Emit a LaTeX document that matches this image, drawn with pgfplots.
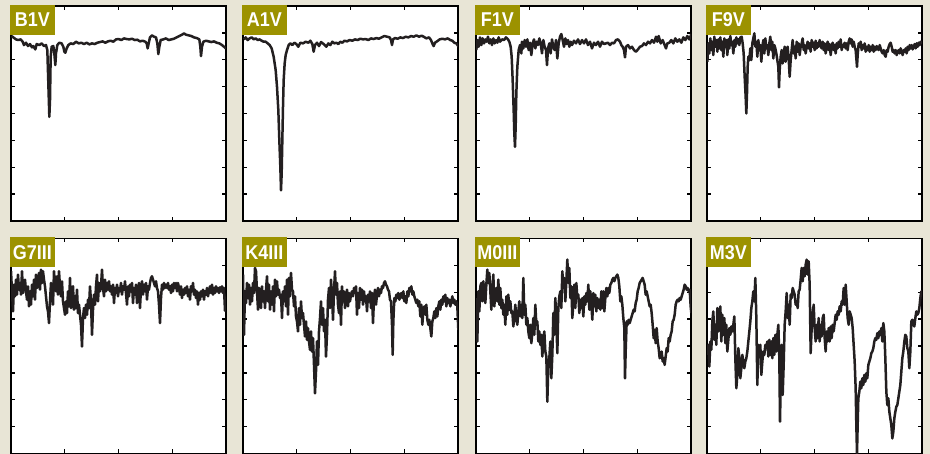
\documentclass[border=0pt]{standalone}
\usepackage{fontspec}
\usepackage{pgfplots}
\pgfplotsset{compat=1.18}
\newfontfamily\labfont{Liberation Sans}[FakeStretch=0.9]
\definecolor{bgbeige}{HTML}{E8E5D6}
\definecolor{olivebox}{HTML}{9C9200}
\definecolor{ink}{HTML}{231F20}

% values in its own units: x to the right, flux downwards (y dir=reverse)
\pgfplotsset{
  spec/.style={
    width=215pt, height=215pt, scale only axis,
    y dir=reverse,
    xticklabel=\empty, yticklabel=\empty,
    tick align=inside, tick pos=both,
    major tick length=4pt,
    major tick style={line width=1.4pt, black},
    axis line style={line width=1.8pt, black},
    axis background/.style={fill=white},
  },
  specline/.style={ink, line width=2.5pt, line join=round, mark=none},
  toprow/.style={spec, ymin=18, ymax=662, ytick={98.5,179,259.5,340,420.5,501,581.5}},
  botrow/.style={spec, ymin=42, ymax=685, ytick={122.4,202.8,283.1,363.5,443.9,524.3,604.6}},
  colA/.style={xmin=33, xmax=678, xtick={194.25,355.5,516.75}},
  colB/.style={xmin=38, xmax=683, xtick={199.25,360.5,521.75}},
  colC/.style={xmin=32, xmax=677, xtick={193.25,354.5,515.75}},
  colD/.style={xmin=22, xmax=667, xtick={183.25,344.5,505.75}},
}
\tikzset{lab/.style={fill=olivebox, text=white, inner sep=0pt, minimum width=45.5pt,
  minimum height=30pt, anchor=north west, xshift=-1.5pt, yshift=1.5pt,
  font=\labfont\bfseries\fontsize{20}{20}\selectfont}}

\begin{document}
\begin{tikzpicture}
\useasboundingbox (0,0) rectangle (930pt,454pt);
\fill[bgbeige] (0,0) rectangle (930pt,454pt);

% ---------- B1V
\begin{axis}[toprow, colA, name=p1, at={(11pt,233pt)}, anchor=south west]
\addplot[specline] coordinates {
(35,108) (40,112) (48,118) (55,120) (62,118) (68,125) (72,135) (78,128) (84,138) (90,132)
(96,142) (100,138) (106,148) (110,132) (118,135) (125,130) (132,138) (138,135) (142,150) (145,250)
(148,350) (150,300) (152,170) (155,140) (160,138) (163,160) (166,195) (168,160) (172,135) (178,128)
(185,130) (190,140) (193,155) (196,158) (200,145) (205,135) (212,130) (220,132) (228,125) (236,130)
(244,128) (252,132) (260,128) (268,133) (276,130) (284,132) (292,128) (300,126) (308,124) (316,128)
(324,124) (332,122) (340,125) (348,118) (356,117) (364,120) (372,115) (380,117) (388,118) (396,116)
(404,120) (412,119) (420,124) (428,122) (436,125) (440,130) (443,145) (446,130) (450,112) (456,106)
(462,110) (468,112) (472,130) (475,162) (478,140) (482,120) (490,118) (498,115) (506,120) (514,118)
(522,116) (530,112) (538,108) (546,104) (552,100) (558,104) (566,106) (574,108) (582,112) (590,114)
(598,118) (601,140) (603,168) (606,140) (610,125) (618,122) (626,124) (634,126) (642,124) (650,128)
(658,130) (666,135) (672,140) (678,146)
};
\end{axis}
\node[lab] at (p1.north west) {B1V};

% ---------- A1V
\begin{axis}[toprow, colB, name=p2, at={(243pt,233pt)}, anchor=south west]
\addplot[specline] coordinates {
(40,118) (46,112) (52,120) (58,115) (64,112) (70,118) (76,115) (82,120) (88,118) (94,122)
(100,125) (106,125) (112,130) (118,135) (124,145) (130,170) (136,210) (140,260) (144,330) (147,420)
(150,500) (152,570) (154,520) (156,420) (158,320) (160,240) (163,190) (166,165) (170,150) (175,135)
(180,130) (186,135) (192,128) (198,132) (204,140) (210,128) (218,130) (226,125) (234,128) (240,122)
(246,132) (250,155) (254,135) (260,128) (266,138) (272,126) (280,132) (288,140) (294,130) (300,135)
(306,125) (312,130) (318,128) (324,132) (330,125) (336,128) (342,122) (350,124) (358,120) (366,122)
(374,118) (382,120) (390,116) (398,118) (406,117) (414,120) (422,115) (430,117) (438,114) (446,116)
(454,112) (462,108) (470,110) (478,112) (482,120) (485,135) (488,118) (494,114) (502,116) (510,112)
(518,114) (526,110) (534,112) (542,108) (550,110) (558,106) (566,110) (574,107) (580,110) (588,115)
(596,112) (602,120) (606,130) (610,138) (614,128) (620,124) (628,118) (636,116) (644,118) (652,115)
(660,120) (666,122) (672,128) (678,130) (685,140)
};
\end{axis}
\node[lab] at (p2.north west) {A1V};

% ---------- F1V
\begin{axis}[toprow, colC, name=p3, at={(476pt,233pt)}, anchor=south west]
\addplot[specline] coordinates {
(33,150) (36,120) (40,140) (44,112) (48,135) (52,115) (56,130) (60,118) (64,125) (68,110)
(72,130) (76,118) (80,135) (84,115) (88,130) (92,120) (96,128) (100,112) (104,125) (110,118)
(116,120) (122,112) (128,118) (132,125) (136,140) (139,170) (142,240) (145,330) (147,400) (149,440)
(151,380) (153,280) (156,200) (160,150) (164,135) (168,160) (170,125) (174,145) (178,120) (182,140)
(186,118) (190,150) (194,128) (198,165) (202,130) (206,118) (210,145) (214,125) (218,135) (222,115)
(226,130) (230,160) (234,120) (238,140) (242,150) (245,195) (248,145) (252,130) (256,160) (260,118)
(264,140) (268,150) (272,120) (276,175) (280,130) (284,110) (288,102) (292,120) (296,140) (300,115)
(304,132) (308,120) (312,140) (316,125) (320,135) (326,122) (332,130) (338,118) (344,132) (350,120)
(356,130) (362,118) (368,135) (374,125) (380,145) (386,128) (392,135) (398,125) (404,140) (410,125)
(416,132) (422,130) (428,128) (434,135) (440,128) (446,130) (452,120) (458,118) (464,125) (468,135)
(472,140) (476,150) (479,172) (482,140) (488,135) (494,145) (500,140) (506,150) (512,155) (518,148)
(524,140) (530,138) (536,130) (542,135) (548,125) (554,130) (560,120) (566,128) (572,110) (576,125)
(580,108) (586,130) (592,120) (598,135) (602,145) (606,130) (612,128) (618,120) (624,130) (630,115)
(636,125) (642,118) (648,128) (654,112) (660,120) (666,108) (672,118) (678,102)
};
\end{axis}
\node[lab] at (p3.north west) {F1V};

% ---------- F9V
\begin{axis}[toprow, colD, name=p4, at={(707pt,233pt)}, anchor=south west]
\addplot[specline] coordinates {
(23,185) (26,130) (29,160) (32,115) (35,150) (38,125) (41,165) (44,110) (47,140) (50,120)
(53,155) (56,118) (59,145) (62,112) (65,150) (68,125) (71,170) (74,115) (77,140) (80,120)
(83,165) (86,118) (89,145) (92,108) (95,135) (98,125) (101,160) (104,120) (107,140) (110,112)
(113,130) (116,118) (119,135) (122,112) (126,110) (129,130) (132,160) (135,230) (138,290) (140,340)
(142,280) (144,200) (146,170) (149,180) (152,145) (155,180) (158,130) (161,115) (164,100) (167,140)
(170,125) (173,170) (176,120) (179,150) (182,135) (185,185) (188,140) (191,120) (194,160) (197,115)
(200,145) (203,135) (206,165) (209,130) (212,110) (215,150) (218,125) (221,175) (224,135) (227,145)
(230,160) (233,180) (236,200) (238,262) (240,210) (243,170) (246,150) (249,190) (252,160) (255,140)
(258,185) (261,150) (264,140) (267,175) (270,230) (273,180) (276,150) (279,120) (282,160) (285,140)
(288,175) (291,125) (294,155) (297,130) (300,165) (303,140) (306,130) (309,115) (312,150) (315,135)
(318,160) (321,140) (324,125) (327,145) (330,130) (333,155) (336,120) (339,140) (342,128) (345,150)
(348,122) (351,145) (354,130) (357,140) (360,120) (363,135) (366,145) (369,125) (372,150) (375,130)
(378,160) (381,140) (384,125) (387,150) (390,132) (393,165) (396,140) (399,128) (402,150) (405,135)
(408,160) (411,130) (414,145) (417,125) (420,140) (423,118) (426,150) (429,135) (432,140) (435,128)
(438,145) (441,130) (444,150) (447,125) (450,115) (453,130) (456,118) (459,140) (462,125) (465,140)
(468,150) (470,175) (472,200) (474,165) (477,130) (480,140) (483,125) (486,150) (489,135) (492,145)
(495,130) (498,155) (501,140) (504,150) (507,135) (510,155) (513,140) (516,150) (519,135) (522,155)
(525,140) (528,150) (531,138) (534,145) (537,150) (540,135) (543,145) (546,155) (549,160) (552,150)
(555,165) (558,170) (561,150) (564,155) (567,140) (570,132) (573,128) (576,140) (579,155) (582,150)
(585,160) (588,150) (591,165) (594,155) (597,150) (600,160) (603,145) (606,155) (609,165) (612,150)
(615,155) (618,145) (621,160) (624,140) (627,150) (630,135) (633,145) (636,135) (639,148) (642,140)
(645,132) (648,145) (651,130) (654,140) (657,128) (660,135) (663,125) (668,130)
};
\end{axis}
\node[lab] at (p4.north west) {F9V};

% ---------- G7III
\begin{axis}[botrow, colA, name=p5, at={(11pt,0.5pt)}, anchor=south west]
\addplot[specline] coordinates {
(33,140) (36,200) (39,260) (42,180) (45,215) (48,165) (51,210) (54,150) (57,195) (60,175)
(63,210) (66,140) (69,205) (72,185) (75,165) (78,200) (81,225) (84,185) (87,245) (90,200)
(93,240) (96,180) (99,215) (102,165) (105,225) (108,150) (111,190) (114,170) (117,145) (120,195)
(123,135) (126,175) (129,140) (132,165) (135,185) (138,215) (141,245) (144,260) (147,295) (150,230)
(153,175) (156,210) (159,240) (162,140) (165,185) (168,200) (171,155) (174,210) (177,140) (180,185)
(183,215) (186,170) (189,230) (192,250) (195,270) (198,230) (201,265) (204,200) (207,245) (210,160)
(213,250) (216,195) (219,185) (222,255) (225,215) (228,250) (231,195) (234,265) (237,240) (240,270)
(243,300) (246,365) (249,280) (252,250) (255,280) (258,240) (261,270) (264,225) (267,250) (270,185)
(273,230) (276,330) (279,255) (282,210) (285,240) (288,185) (291,150) (294,230) (297,175) (300,200)
(303,185) (306,135) (309,190) (312,215) (315,165) (318,200) (321,175) (324,195) (327,170) (330,200)
(333,185) (336,210) (339,180) (342,235) (345,190) (348,205) (351,180) (354,215) (357,190) (360,200)
(363,175) (366,210) (369,185) (372,195) (375,170) (378,205) (381,240) (384,185) (387,215) (390,180)
(393,200) (396,175) (399,235) (402,190) (405,210) (408,180) (411,235) (414,195) (417,175) (420,250)
(423,190) (426,170) (429,210) (432,180) (435,200) (438,175) (441,225) (444,185) (447,195) (450,175)
(453,160) (456,155) (459,165) (462,175) (465,185) (468,170) (471,190) (474,200) (477,240) (480,295)
(483,220) (486,180) (489,195) (492,175) (495,190) (498,180) (501,190) (504,175) (507,195) (510,185)
(513,205) (516,180) (519,200) (522,175) (525,190) (528,175) (531,200) (534,175) (537,190) (540,210)
(543,185) (546,220) (549,195) (552,210) (555,190) (558,205) (561,185) (564,215) (567,195) (570,225)
(573,185) (576,200) (579,175) (582,210) (585,195) (588,220) (591,200) (594,240) (597,205) (600,225)
(603,200) (606,215) (609,195) (612,225) (615,200) (618,210) (621,190) (624,215) (627,200) (630,185)
(633,205) (636,180) (639,210) (642,190) (645,205) (648,185) (651,200) (654,190) (657,205) (660,188)
(663,200) (666,185) (669,205) (672,190) (675,258) (678,215)
};
\end{axis}
\node[lab] at (p5.north west) {G7III};

% ---------- K4III
\begin{axis}[botrow, colB, name=p6, at={(243pt,0.5pt)}, anchor=south west]
\addplot[specline] coordinates {
(38,150) (41,330) (44,200) (47,235) (50,175) (53,220) (56,180) (59,240) (62,190) (65,230)
(68,175) (71,205) (74,130) (77,140) (80,200) (83,255) (86,190) (89,210) (92,250) (95,185)
(98,230) (101,200) (104,250) (107,195) (110,155) (113,230) (116,180) (119,255) (122,200) (125,240)
(128,185) (131,260) (134,165) (137,215) (140,170) (143,210) (146,195) (149,220) (152,210) (155,280)
(158,200) (161,230) (164,185) (167,245) (170,165) (173,270) (176,160) (179,215) (182,145) (185,195)
(188,200) (191,245) (194,215) (197,275) (200,290) (203,320) (206,250) (209,300) (212,230) (215,280)
(218,265) (221,300) (224,335) (227,290) (230,345) (233,310) (236,350) (239,375) (242,320) (245,380)
(248,340) (251,420) (254,505) (257,440) (260,350) (263,420) (266,320) (269,280) (272,230) (275,300)
(278,250) (281,320) (284,285) (287,395) (290,330) (293,225) (296,190) (299,250) (302,165) (305,215)
(308,285) (311,200) (314,140) (317,210) (320,175) (323,240) (326,265) (329,200) (332,300) (335,185)
(338,230) (341,200) (344,250) (347,225) (350,195) (353,245) (356,205) (359,230) (362,210) (365,200)
(368,215) (371,190) (374,205) (377,185) (380,270) (383,205) (386,250) (389,190) (392,225) (395,195)
(398,240) (401,200) (404,230) (407,215) (410,260) (413,210) (416,230) (419,200) (422,250) (425,205)
(428,295) (431,220) (434,195) (437,240) (440,210) (443,190) (446,215) (449,195) (452,205) (455,185)
(458,190) (461,175) (464,170) (467,180) (470,185) (473,195) (476,200) (479,225) (482,230) (485,300)
(487,390) (489,290) (492,220) (495,230) (498,210) (501,220) (504,205) (507,225) (510,215) (513,205)
(516,220) (519,200) (522,230) (525,215) (528,235) (531,200) (534,215) (537,190) (540,200) (543,185)
(546,210) (549,200) (552,215) (555,225) (558,235) (561,225) (564,245) (567,230) (570,275) (573,240)
(576,300) (579,255) (582,245) (585,270) (588,240) (591,285) (594,300) (597,285) (600,310) (603,335)
(606,290) (609,280) (612,260) (615,280) (618,250) (621,275) (624,245) (627,230) (630,255) (633,225)
(636,240) (639,215) (642,230) (645,210) (648,245) (651,220) (654,235) (657,225) (660,245) (663,230)
(666,215) (669,235) (672,225) (675,240) (678,230) (681,245) (684,315)
};
\end{axis}
\node[lab] at (p6.north west) {K4III};

% ---------- M0III
\begin{axis}[botrow, colC, name=p7, at={(476pt,0.5pt)}, anchor=south west]
\addplot[specline] coordinates {
(33,220) (36,350) (39,200) (42,260) (45,185) (48,175) (51,230) (54,170) (57,210) (60,235)
(63,180) (66,135) (69,175) (72,145) (75,200) (78,255) (81,195) (84,150) (87,245) (90,200)
(93,190) (96,230) (99,165) (102,240) (105,190) (108,250) (111,225) (114,270) (117,240) (120,300)
(123,215) (126,270) (129,210) (132,255) (135,230) (138,265) (141,260) (144,305) (147,275) (150,240)
(153,285) (156,300) (159,260) (162,230) (165,275) (168,240) (171,280) (174,160) (177,270) (180,240)
(183,300) (186,280) (189,320) (192,340) (195,300) (198,355) (201,325) (204,280) (207,330) (210,240)
(213,300) (216,290) (219,350) (222,320) (225,360) (228,330) (231,395) (234,340) (237,320) (240,380)
(243,395) (246,530) (249,420) (252,400) (255,350) (258,460) (261,390) (264,265) (267,330) (270,220)
(273,290) (276,385) (279,250) (282,215) (285,200) (288,250) (291,140) (294,190) (297,160) (300,230)
(303,170) (306,105) (309,175) (312,130) (315,220) (318,185) (321,280) (324,235) (327,180) (330,250)
(333,175) (336,220) (339,210) (342,265) (345,225) (348,250) (351,220) (354,275) (357,215) (360,240)
(363,205) (366,230) (369,180) (372,255) (375,200) (378,240) (381,285) (384,205) (387,245) (390,210)
(393,260) (396,220) (399,250) (402,225) (405,255) (408,200) (411,250) (414,200) (417,260) (420,220)
(423,190) (426,215) (429,190) (432,205) (435,180) (438,175) (441,165) (444,160) (447,170) (450,160)
(453,155) (456,150) (459,160) (462,185) (465,230) (468,215) (471,240) (474,280) (477,310) (479,460)
(481,380) (484,290) (487,300) (490,285) (493,295) (496,285) (499,275) (502,265) (505,255) (508,260)
(511,235) (514,225) (517,200) (520,190) (523,175) (526,170) (529,165) (532,160) (535,170) (538,180)
(541,210) (544,200) (547,215) (550,230) (553,245) (556,240) (559,265) (562,300) (565,340) (568,315)
(571,355) (574,310) (577,350) (580,370) (583,400) (586,395) (589,380) (592,410) (595,400) (598,420)
(601,395) (604,370) (607,380) (610,340) (613,350) (616,330) (619,320) (622,290) (625,285) (628,270)
(631,240) (634,230) (637,225) (640,230) (643,220) (646,225) (649,215) (652,205) (655,195) (658,180)
(661,185) (664,195) (667,190) (670,200) (673,195) (676,245) (678,265)
};
\end{axis}
\node[lab] at (p7.north west) {M0III};

% ---------- M3V
\begin{axis}[botrow, colD, name=p8, at={(707pt,0.5pt)}, anchor=south west]
\addplot[specline] coordinates {
(23,390) (26,360) (29,425) (32,350) (35,375) (38,290) (41,260) (44,345) (47,300) (50,360)
(53,250) (56,320) (59,290) (62,245) (65,350) (68,270) (71,330) (74,280) (77,355) (80,300)
(83,380) (86,345) (89,310) (92,330) (95,305) (98,320) (101,300) (104,275) (107,400) (110,490)
(113,450) (116,370) (119,400) (122,460) (125,430) (128,390) (131,410) (134,430) (137,410) (140,400)
(143,380) (146,350) (149,320) (152,290) (155,250) (158,230) (161,200) (164,230) (167,160) (170,280)
(173,480) (176,360) (179,390) (182,360) (185,450) (188,410) (191,380) (194,390) (197,360) (200,370)
(203,350) (206,395) (209,345) (212,390) (215,350) (218,400) (221,340) (224,390) (227,330) (230,380)
(233,330) (236,300) (239,400) (241,590) (243,480) (246,360) (249,510) (252,420) (255,300) (258,260)
(261,205) (264,280) (267,240) (270,300) (273,210) (276,220) (279,190) (282,200) (285,210) (288,240)
(291,230) (294,250) (297,200) (300,195) (303,165) (306,130) (309,170) (312,130) (315,155) (318,120)
(321,105) (324,150) (327,110) (330,180) (333,385) (336,310) (339,270) (342,240) (345,310) (348,350)
(351,300) (354,340) (357,280) (360,350) (363,300) (366,335) (369,280) (372,270) (375,340) (378,380)
(381,320) (384,350) (387,310) (390,350) (393,305) (396,340) (399,300) (402,320) (405,295) (408,270)
(411,285) (414,260) (417,270) (420,245) (423,260) (426,230) (429,240) (432,190) (435,240) (438,180)
(441,230) (444,280) (447,300) (450,260) (453,270) (456,280) (459,310) (462,360) (465,410) (468,490)
(470,600) (472,685) (474,600) (476,520) (479,500) (482,470) (485,490) (488,460) (491,480) (494,450)
(497,470) (500,445) (503,460) (506,420) (509,410) (512,400) (515,385) (518,380) (521,370) (524,350)
(527,340) (530,345) (533,325) (536,340) (539,320) (542,330) (545,310) (548,350) (551,295) (554,320)
(557,400) (560,500) (563,540) (566,520) (569,560) (572,580) (575,600) (578,640) (581,620) (584,580)
(587,560) (590,545) (593,540) (596,520) (599,500) (602,480) (605,440) (608,400) (611,380) (614,350)
(617,330) (620,335) (623,370) (626,380) (629,430) (632,380) (635,290) (638,285) (641,300) (644,305)
(647,280) (650,260) (653,270) (656,265) (659,250) (662,220) (665,200) (668,210)
};
\end{axis}
\node[lab] at (p8.north west) {M3V};
\end{tikzpicture}
\end{document}
